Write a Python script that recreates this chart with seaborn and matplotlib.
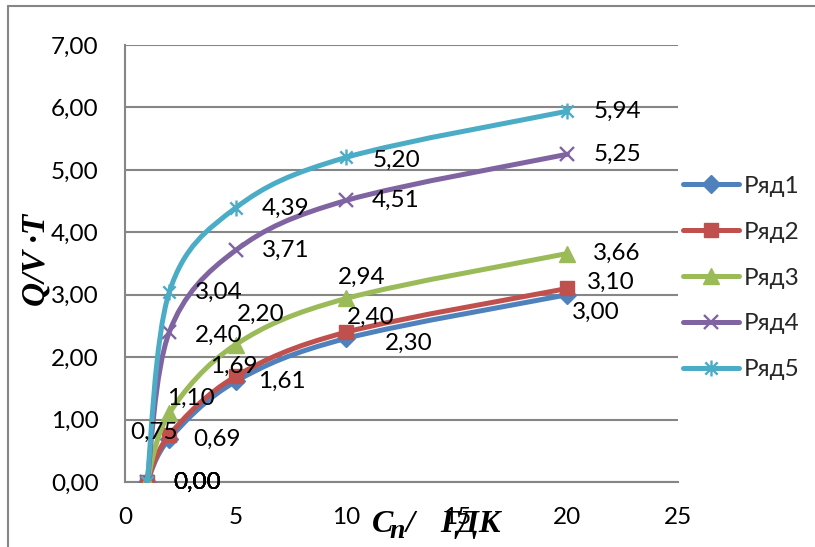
import numpy as np
import matplotlib
matplotlib.use("Agg")
import matplotlib.pyplot as plt
import seaborn as sns
from matplotlib.path import Path
from matplotlib.patches import PathPatch
from matplotlib.lines import Line2D

# data
x_vals = [1, 2, 5, 10, 20]
series_names = ["Ряд1", "Ряд2", "Ряд3", "Ряд4", "Ряд5"]
row1 = [0.00, 0.69, 1.61, 2.30, 3.00]
row2 = [0.00, 0.75, 1.69, 2.40, 3.10]
row3 = [0.00, 1.10, 2.20, 2.94, 3.66]
row4 = [0.00, 2.40, 3.71, 4.51, 5.25]
row5 = [0.00, 3.04, 4.39, 5.20, 5.94]
x_ticks = [0, 5, 10, 15, 20, 25]
y_ticks = [0, 1, 2, 3, 4, 5, 6, 7]
y_ticklabels = ["0,00", "1,00", "2,00", "3,00", "4,00", "5,00", "6,00", "7,00"]

rows = [row1, row2, row3, row4, row5]
colors = ["#4F81BD", "#C0504D", "#9BBB59", "#8064A2", "#4BACC6"]

# label offsets in pixels (left edge of text, upward positive)
offsets = [
    [(26, 0), (24, 0), (22, 0), (39, -5), (5, -18)],
    [(26, 0), (-39, 3), (-26, 10), (1, 15), (20, 6)],
    [(26, 0), (-2, 15), (1, 30), (-8, 21), (26, 0)],
    [(26, 0), (26, -3), (26, 0), (26, 0), (26, 0)],
    [(26, 0), (26, 0), (26, 0), (26, -3), (26, 0)],
]

sns.set_style("white")
plt.rcParams["font.family"] = ["Lato", "DejaVu Sans"]

star = Path([(-1, -1), (1, 1), (-1, 1), (1, -1), (0, -1.3), (0, 1.3)],
            [Path.MOVETO, Path.LINETO, Path.MOVETO, Path.LINETO, Path.MOVETO, Path.LINETO])
marker_styles = [
    dict(marker="D", markersize=9, mfc=colors[0], mec=colors[0], mew=1),
    dict(marker="s", markersize=10.5, mfc=colors[1], mec=colors[1], mew=1),
    dict(marker="^", markersize=12, mfc=colors[2], mec=colors[2], mew=1),
    dict(marker="x", markersize=10, mfc="none", mec=colors[3], mew=1.7),
    dict(marker=star, markersize=11.5, mfc="none", mec=colors[4], mew=1.7),
]


def smooth_path(xs, ys):
    # Excel-style smoothed line: Catmull-Rom through the points, as bezier
    pts = np.column_stack([xs, ys]).astype(float)
    n = len(pts)
    verts = [pts[0]]
    codes = [Path.MOVETO]
    for i in range(n - 1):
        p0 = pts[max(i - 1, 0)]
        p1 = pts[i]
        p2 = pts[i + 1]
        p3 = pts[min(i + 2, n - 1)]
        verts += [p1 + (p2 - p0) / 6, p2 - (p3 - p1) / 6, p2]
        codes += [Path.CURVE4] * 3
    return Path(verts, codes)


fig = plt.figure(figsize=(8.15, 5.47), dpi=100)
ax = fig.add_axes([125 / 815, 65 / 547, 553 / 815, 437 / 547])

grid_c = "#868686"
for i, (name, ys) in enumerate(zip(series_names, rows)):
    ax.add_patch(PathPatch(smooth_path(x_vals, ys), fill=False, edgecolor=colors[i],
                           lw=3.6, capstyle="round", joinstyle="round", zorder=3 + i))
    sns.lineplot(x=x_vals, y=ys, ax=ax, color=colors[i], linestyle="none",
                 zorder=3.5 + i, legend=False, **marker_styles[i])
    for xv, yv, (dx, dy) in zip(x_vals, ys, offsets[i]):
        ax.annotate(f"{yv:.2f}".replace(".", ","), (xv, yv), xytext=(dx, dy),
                    textcoords="offset pixels", ha="left", va="center",
                    fontsize=17.5, color="black", zorder=10)

ax.set_xlim(0, 25)
ax.set_ylim(0, 7)
ax.set_xticks(x_ticks)
ax.set_xticklabels([str(t) for t in x_ticks])
ax.set_yticks(y_ticks)
ax.set_yticklabels(y_ticklabels)
ax.set_xlabel("")
ax.set_ylabel("")
ax.yaxis.grid(True, color=grid_c, lw=1.5)
ax.xaxis.grid(False)
ax.set_axisbelow(True)
for s in ["top", "right"]:
    ax.spines[s].set_visible(False)
for s in ["left", "bottom"]:
    ax.spines[s].set_color(grid_c)
    ax.spines[s].set_linewidth(1.5)
ax.tick_params(axis="both", which="major", direction="out", length=5, width=1.5,
               color=grid_c, labelsize=17.5, labelcolor="black")
ax.tick_params(axis="y", pad=14)
ax.tick_params(axis="x", pad=13)
ax.spines["left"].set_zorder(2.5)

# legend
handles = [Line2D([], [], color=colors[i], lw=3.6, solid_capstyle="round", **marker_styles[i])
           for i in range(5)]
fig.legend(handles, series_names, loc="center left", bbox_to_anchor=(683 / 815, 1 - 278 / 547),
           frameon=False, fontsize=17.5, handlelength=2.3, handletextpad=0.2,
           labelspacing=1.02, borderpad=0, borderaxespad=0)

# axis titles
serif = dict(family="Liberation Serif", weight="bold", style="italic", color="black")
fig.text(36 / 815, 1 - 260 / 547, "Q/V ·T", rotation=90, ha="center", va="center",
         fontsize=24, **serif)
fig.text(372 / 815, 1 - 532 / 547, "C", ha="left", va="baseline", fontsize=23, **serif)
fig.text(389 / 815, 1 - 538 / 547, "n", ha="left", va="baseline", fontsize=20, **serif)
fig.text(406 / 815, 1 - 532 / 547, "/", ha="left", va="baseline", fontsize=23, **serif)
fig.text(440 / 815, 1 - 532 / 547, "ГДК", ha="left", va="baseline", fontsize=23, **serif)

# chart frame (top and left edges)
fig.add_artist(Line2D([8 / 815, 1], [1 - 6 / 547, 1 - 6 / 547], transform=fig.transFigure,
                      color=grid_c, lw=1.5))
fig.add_artist(Line2D([8 / 815, 8 / 815], [0, 1 - 6 / 547], transform=fig.transFigure,
                      color=grid_c, lw=1.5))

fig.savefig("out.png", dpi=100)
